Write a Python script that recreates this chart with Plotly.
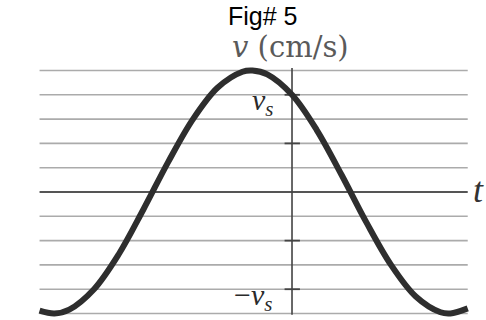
import plotly.graph_objects as go

# Velocity curve of the oscillator, v (grid units) against t
t_vals = [-5.1, -4.8, -4.5, -4.0, -3.5, -3.0, -2.5, -2.0, -1.5, -1.0, -0.8,
          -0.5, 0.0, 0.5, 1.0, 1.5, 2.0, 2.5, 3.0, 3.2, 3.55]
v_vals = [-4.88, -5.0, -4.84, -4.0, -2.56, -0.71, 1.24, 3.0, 4.3, 4.95, 5.0,
          4.84, 4.0, 2.55, 0.71, -1.24, -3.0, -4.3, -4.95, -5.0, -4.79]

# Horizontal ruling levels and axis tick marks
grid_levels = [-5, -4, -3, -2, -1, 1, 2, 3, 4, 5]
tick_levels = [-4, -2, 2, 4]
vs_level = 4
t_start, t_end = -5.1, 3.55

fig = go.Figure()

for g in grid_levels:
    fig.add_shape(type="line", x0=t_start, x1=t_end, y0=g, y1=g,
                  line=dict(color="#ababab", width=1.6), layer="below")

# t axis
fig.add_shape(type="line", x0=t_start, x1=t_end, y0=0, y1=0,
              line=dict(color="#555555", width=2), layer="below")
# v axis
fig.add_shape(type="line", x0=0, x1=0, y0=-5.05, y1=5.1,
              line=dict(color="#444444", width=1.6), layer="below")
for tk in tick_levels:
    fig.add_shape(type="line", x0=-0.15, x1=0.16, y0=tk, y1=tk,
                  line=dict(color="#444444", width=1.8), layer="below")

fig.add_trace(go.Scatter(
    x=t_vals, y=v_vals, mode="lines",
    line=dict(color="#2e2e2e", width=6, shape="spline", smoothing=1.0),
    hoverinfo="skip", showlegend=False,
))

serif = "Liberation Serif"
fig.add_annotation(x=-0.32, y=vs_level - 0.3, text="<i>v</i><sub><i>s</i></sub>",
                   xanchor="right", yanchor="middle", showarrow=False,
                   font=dict(family=serif, size=30, color="#2a2a2a"))
fig.add_annotation(x=-0.36, y=-vs_level - 0.3, text="\u2212<i>v</i><sub><i>s</i></sub>",
                   xanchor="right", yanchor="middle", showarrow=False,
                   font=dict(family=serif, size=30, color="#2a2a2a"))
fig.add_annotation(x=3.62, y=0.1, text="<i>t</i>",
                   xanchor="left", yanchor="middle", showarrow=False,
                   font=dict(family=serif, size=36, color="#333333"))
fig.add_annotation(x=-0.04, y=5.95, text="<i>v</i> (cm/s)",
                   xanchor="center", yanchor="middle", showarrow=False,
                   font=dict(family="DejaVu Serif", size=29, color="#5a5a5a"))
fig.add_annotation(x=-0.6, y=7.25, text="Fig# 5",
                   xanchor="center", yanchor="middle", showarrow=False,
                   font=dict(family="Liberation Sans", size=25, color="#000000"))

fig.update_layout(
    width=486, height=320,
    margin=dict(l=0, r=0, t=0, b=0),
    paper_bgcolor="white", plot_bgcolor="white",
    xaxis=dict(range=[-5.899, 3.919], visible=False, fixedrange=True),
    yaxis=dict(range=[-5.267, 7.901], visible=False, fixedrange=True),
)

fig.write_html("out.html")
